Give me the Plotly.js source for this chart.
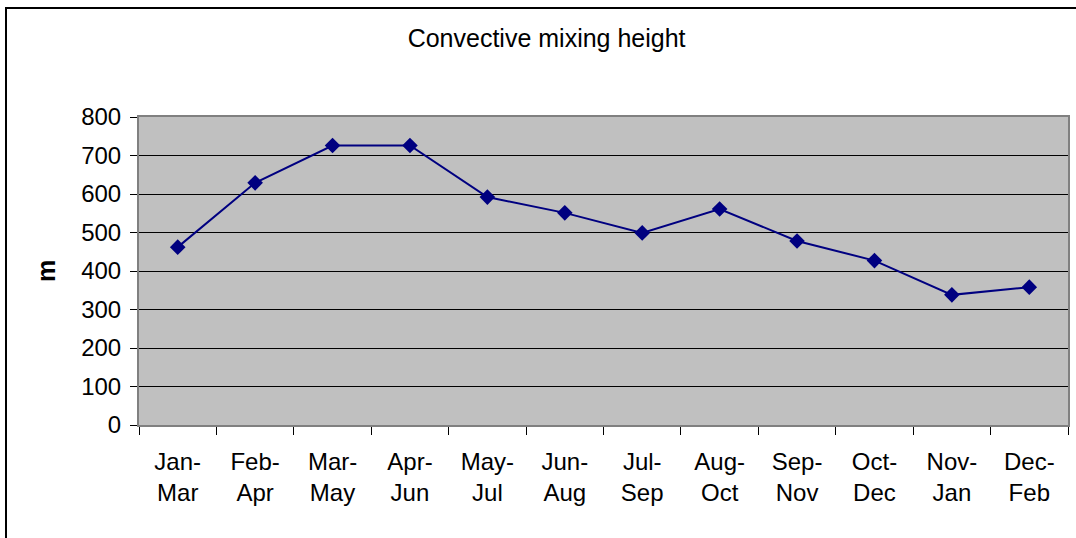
<!DOCTYPE html>
<html>
<head>
<meta charset="utf-8">
<script src="https://cdn.plot.ly/plotly-3.0.1.min.js"></script>
<style>
  html, body { margin: 0; padding: 0; background: #fff; overflow: hidden; }
  #chart { width: 1076px; height: 538px; }
  #frame { position: absolute; left: 5px; top: 7px; width: 1200px; height: 700px;
           border: 2px solid #000; pointer-events: none; z-index: 10; }
</style>
</head>
<body>
<div id="chart"></div>
<div id="frame"></div>
<script>
const categories = ["Jan-<br>Mar", "Feb-<br>Apr", "Mar-<br>May", "Apr-<br>Jun", "May-<br>Jul", "Jun-<br>Aug",
                    "Jul-<br>Sep", "Aug-<br>Oct", "Sep-<br>Nov", "Oct-<br>Dec", "Nov-<br>Jan", "Dec-<br>Feb"];
const mixingHeight = [462, 629, 726, 726, 592, 551, 499, 561, 478, 427, 338, 358];
const yTicks = [0, 100, 200, 300, 400, 500, 600, 700, 800];

const font = "Liberation Sans, Arial, sans-serif";

const trace = {
  x: categories,
  y: mixingHeight,
  type: "scatter",
  mode: "lines+markers",
  line: { color: "#000080", width: 2 },
  marker: { symbol: "diamond", size: 12, color: "#000080" },
  hoverinfo: "x+y"
};

const layout = {
  width: 1076,
  height: 538,
  margin: { l: 139, r: 8, t: 117, b: 113 },
  paper_bgcolor: "#ffffff",
  plot_bgcolor: "#c0c0c0",
  showlegend: false,
  title: {
    text: "Convective mixing height",
    font: { family: font, size: 25, color: "#000" },
    x: 0.508, xanchor: "center",
    y: 1 - 38 / 538, yref: "container", yanchor: "middle"
  },
  xaxis: {
    type: "category",
    range: [-0.5, 11.5],
    showgrid: false,
    ticks: "outside",
    tickson: "boundaries",
    ticklen: 8,
    tickcolor: "#000",
    tickwidth: 1,
    tickfont: { family: font, size: 24, color: "#000" },
    showline: true,
    linecolor: "#808080",
    linewidth: 2,
    mirror: true,
    ticklabelstandoff: 14
  },
  yaxis: {
    range: [0, 800],
    tickvals: yTicks,
    ticktext: yTicks.map(String),
    showgrid: true,
    gridcolor: "#000",
    gridwidth: 1,
    zeroline: true,
    zerolinecolor: "#000",
    zerolinewidth: 1,
    ticks: "outside",
    ticklen: 7,
    tickcolor: "#000",
    tickfont: { family: font, size: 24, color: "#000" },
    showline: true,
    linecolor: "#808080",
    linewidth: 2,
    mirror: true,
    ticklabelstandoff: 4,
    title: {
      text: "<b>m</b>",
      font: { family: font, size: 25, color: "#000" },
      standoff: 18
    }
  }
};

Plotly.newPlot("chart", [trace], layout, { staticPlot: true, displayModeBar: false });
</script>
</body>
</html>
